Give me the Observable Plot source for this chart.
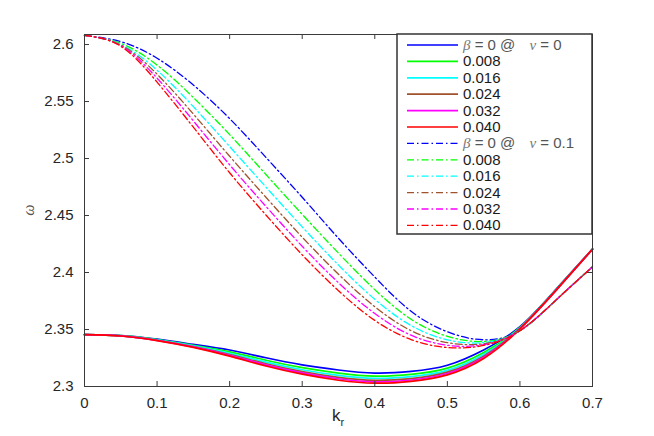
<!DOCTYPE html>
<html><head><meta charset="utf-8">
<script src="https://cdn.jsdelivr.net/npm/d3@7"></script>
<script src="https://cdn.jsdelivr.net/npm/@observablehq/plot@0.6"></script>
<style>body{margin:0;background:#fff} svg{display:block}</style>
</head><body><div id="chart"></div>
<script>
// wavenumber k_r
const kr = [0, 0.05, 0.1, 0.15, 0.2, 0.25, 0.3, 0.35, 0.4, 0.45, 0.5, 0.55, 0.6, 0.65, 0.7];

// nu = 0 (solid)
const nu0_b000 = [2.3455, 2.3447, 2.3415, 2.3370, 2.3320, 2.3252, 2.3190, 2.3145, 2.3118, 2.3132, 2.3186, 2.3320, 2.3525, 2.3855, 2.4205];
const nu0_b008 = [2.3455, 2.3446, 2.3411, 2.3362, 2.3304, 2.3230, 2.3165, 2.3118, 2.3091, 2.3106, 2.3161, 2.3298, 2.3519, 2.3852, 2.4205];
const nu0_b016 = [2.3455, 2.3445, 2.3409, 2.3356, 2.3291, 2.3214, 2.3147, 2.3097, 2.3071, 2.3086, 2.3141, 2.3280, 2.3514, 2.3850, 2.4205];
const nu0_b024 = [2.3455, 2.3444, 2.3406, 2.3351, 2.3281, 2.3200, 2.3131, 2.3080, 2.3054, 2.3069, 2.3126, 2.3266, 2.3511, 2.3848, 2.4205];
const nu0_b032 = [2.3455, 2.3444, 2.3405, 2.3347, 2.3274, 2.3190, 2.3119, 2.3068, 2.3041, 2.3057, 2.3114, 2.3256, 2.3508, 2.3846, 2.4205];
const nu0_b040 = [2.3455, 2.3443, 2.3403, 2.3343, 2.3266, 2.3180, 2.3108, 2.3055, 2.3029, 2.3045, 2.3102, 2.3245, 2.3505, 2.3845, 2.4205];

// nu = 0.1 (dash-dot)
const nu1_b000 = [2.608, 2.6025, 2.5880, 2.5645, 2.5350, 2.5010, 2.4660, 2.4300, 2.3960, 2.3660, 2.3480, 2.3410, 2.3490, 2.3760, 2.4050];
const nu1_b008 = [2.608, 2.6010, 2.5820, 2.5535, 2.5210, 2.4860, 2.4510, 2.4170, 2.3850, 2.3590, 2.3440, 2.3395, 2.3490, 2.3760, 2.4050];
const nu1_b016 = [2.608, 2.6000, 2.5775, 2.5455, 2.5105, 2.4750, 2.4400, 2.4065, 2.3765, 2.3535, 2.3410, 2.3385, 2.3490, 2.3760, 2.4050];
const nu1_b024 = [2.608, 2.5995, 2.5740, 2.5390, 2.5020, 2.4660, 2.4310, 2.3985, 2.3700, 2.3490, 2.3385, 2.3375, 2.3490, 2.3760, 2.4050];
const nu1_b032 = [2.608, 2.5990, 2.5705, 2.5330, 2.4945, 2.4580, 2.4230, 2.3910, 2.3640, 2.3450, 2.3362, 2.3367, 2.3490, 2.3760, 2.4050];
const nu1_b040 = [2.608, 2.5985, 2.5670, 2.5275, 2.4875, 2.4505, 2.4155, 2.3840, 2.3580, 2.3412, 2.3342, 2.3360, 2.3490, 2.3760, 2.4050];

const colors = ["#0000ff", "#00ff00", "#00ffff", "#a0522d", "#ff00ff", "#ff0000"];
const legendLabels = ["β = 0 @   ν = 0", "0.008", "0.016", "0.024", "0.032", "0.040",
                      "β = 0 @   ν = 0.1", "0.008", "0.016", "0.024", "0.032", "0.040"];
const xTicks = [0, 0.1, 0.2, 0.3, 0.4, 0.5, 0.6, 0.7];
const yTicks = [2.3, 2.35, 2.4, 2.45, 2.5, 2.55, 2.6];

const solidSeries = [nu0_b000, nu0_b008, nu0_b016, nu0_b024, nu0_b032, nu0_b040];
const dashSeries = [nu1_b000, nu1_b008, nu1_b016, nu1_b024, nu1_b032, nu1_b040];
const DASH = "7,3,1.5,3";

const W = 654, H = 436, mL = 84, mR = 62, mT = 34, mB = 50;
const iW = W - mL - mR, iH = H - mT - mB;
const axisColor = "#3a3a3a";

const toRows = s => kr.map((k, i) => ({k, w: s[i]}));
const marks = [];
solidSeries.forEach((s, i) => marks.push(Plot.line(toRows(s), {x: "k", y: "w", stroke: colors[i], strokeWidth: 1.7, curve: "natural"})));
dashSeries.forEach((s, i) => marks.push(Plot.line(toRows(s), {x: "k", y: "w", stroke: colors[i], strokeWidth: 1.3, strokeDasharray: DASH, curve: "natural"})));
marks.push(
  Plot.tickX(xTicks, {x: d => d, insetTop: iH - 5, stroke: axisColor}),
  Plot.tickX(xTicks, {x: d => d, insetBottom: iH - 5, stroke: axisColor}),
  Plot.tickY(yTicks, {y: d => d, insetRight: iW - 5, stroke: axisColor}),
  Plot.tickY(yTicks, {y: d => d, insetLeft: iW - 5, stroke: axisColor}),
  Plot.frame({stroke: axisColor, strokeWidth: 1}),
  Plot.axisX({ticks: xTicks, tickSize: 0, tickPadding: 11, tickFormat: d => String(d), label: null}),
  Plot.axisY({ticks: yTicks, tickSize: 0, tickPadding: 11, tickFormat: d => String(d), label: null})
);

const plot = Plot.plot({
  width: W, height: H,
  marginLeft: mL, marginRight: mR, marginTop: mT, marginBottom: mB,
  x: {domain: [0, 0.7]},
  y: {domain: [2.3, 2.6088]},
  style: {fontFamily: "'Liberation Sans', Arial, sans-serif", fontSize: "15px", color: "#262626", background: "#fff"},
  marks
});
document.getElementById("chart").appendChild(plot);

const svg = d3.select(plot);
// axis labels
const xl = svg.append("text").attr("x", mL + iW / 2).attr("y", 421).attr("text-anchor", "middle")
  .style("font-family", "'Liberation Sans', Arial, sans-serif").style("font-size", "17px").attr("fill", "#262626");
xl.append("tspan").text("k");
xl.append("tspan").attr("dy", 5).style("font-size", "11px").text("r");
svg.append("text").attr("transform", `translate(34,${mT + iH / 2}) rotate(-90)`).attr("text-anchor", "middle")
  .style("font-family", "'Liberation Serif', serif").style("font-style", "italic").style("font-size", "16px").attr("fill", "#555").text("ω");

// legend
const lg = svg.append("g");
const lx = 397, ly = mT, lw = 195, lh = 200, rowH = 16.4, row0 = 45;
lg.append("rect").attr("x", lx).attr("y", ly).attr("width", lw).attr("height", lh)
  .attr("fill", "#fff").attr("stroke", "#333").attr("stroke-width", 1.5);
legendLabels.forEach((lab, i) => {
  const y = row0 + i * rowH;
  const c = colors[i % 6];
  lg.append("line").attr("x1", 407).attr("x2", 458).attr("y1", y).attr("y2", y)
    .attr("stroke", c).attr("stroke-width", i < 6 ? 1.7 : 1.3).attr("stroke-dasharray", i < 6 ? null : DASH);
  const t = lg.append("text").attr("x", 463).attr("y", y + 5).attr("text-anchor", "start")
    .style("font-family", "'Liberation Sans', Arial, sans-serif").style("font-size", "15px").attr("fill", "#1a1a1a");
  if (lab.startsWith("β")) {
    const nuVal = lab.split("= ").pop();
    t.append("tspan").style("font-family", "'Liberation Serif', serif").style("font-style", "italic").attr("fill", "#777").text("β");
    t.append("tspan").attr("fill", "#555").text(" = 0 @ ");
    t.append("tspan").attr("dx", 10).style("font-family", "'Liberation Serif', serif").style("font-style", "italic").attr("fill", "#777").text("ν");
    t.append("tspan").attr("fill", "#555").text(" = " + nuVal);
  } else {
    t.text(lab);
  }
});
</script>
</body></html>
